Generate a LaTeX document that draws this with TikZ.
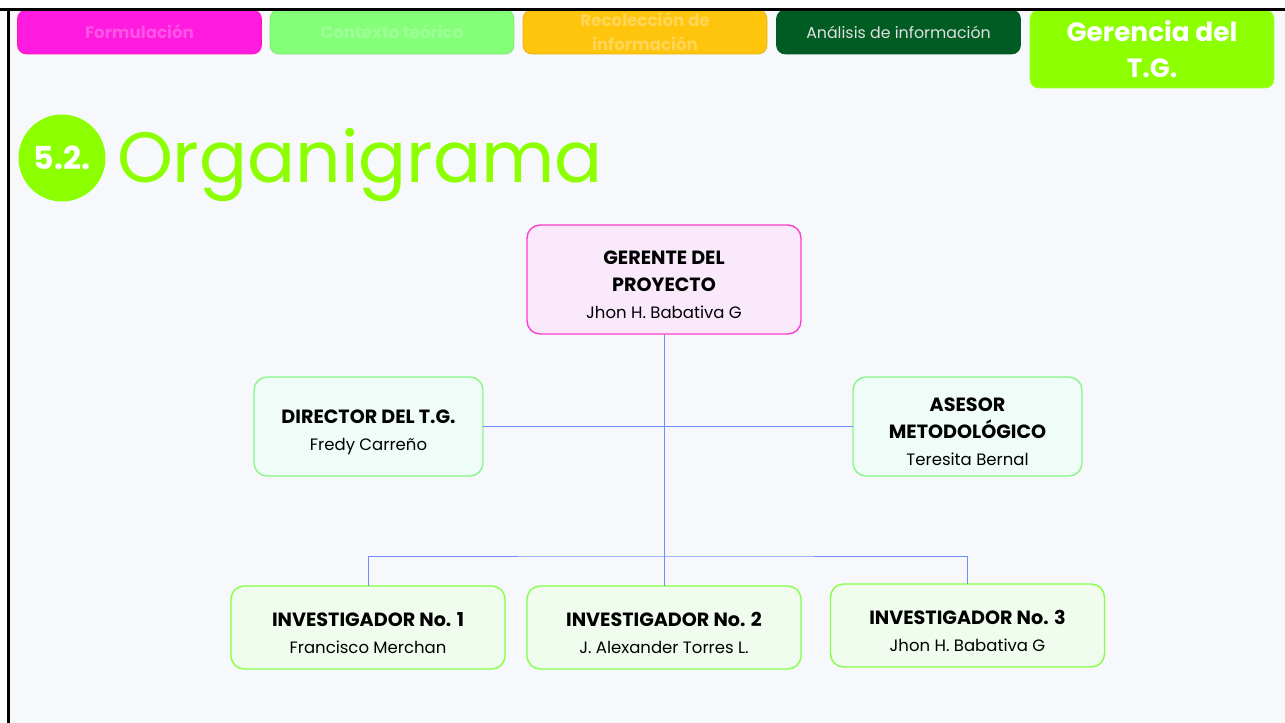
\documentclass[tikz,border=0pt]{standalone}
\usepackage{fontspec}
\setmainfont{Poppins}
\usetikzlibrary{positioning}
\definecolor{bgc}{HTML}{F7F8FC}
\definecolor{limec}{HTML}{8CFF00}
\definecolor{pinkfill}{HTML}{F9E9FB}
\definecolor{pinkline}{HTML}{FF3DCB}
\definecolor{mintfill}{HTML}{EFFCF7}
\definecolor{mintline}{HTML}{88F788}
\definecolor{leaffill}{HTML}{F0FDEE}
\definecolor{leafline}{HTML}{86FF44}
\definecolor{wirec}{HTML}{6F8EFF}
\definecolor{magc}{HTML}{FF1ADF}
\definecolor{greenc}{HTML}{85FF7A}
\definecolor{yellowc}{HTML}{FFC50D}
\definecolor{darkgc}{HTML}{005C22}
\newcommand\rolefont{\bfseries\fontsize{10.9}{15.5}\selectfont}
\newcommand\namefont{\mdseries\fontsize{9.4}{13}\selectfont}
\newcommand\topgap{\rule{0pt}{14pt}}
\begin{document}
\begin{tikzpicture}[x=0.02cm, y=-0.02cm,
  every node/.style={inner sep=0pt, outer sep=0pt},
  tab/.style={rounded corners=5pt, minimum width=4.88cm, minimum height=0.88cm,
    align=center, font=\bfseries\fontsize{9.5}{10}\selectfont},
  box/.style={draw, line width=0.8pt, rounded corners=0.26cm, align=center,
    font=\rolefont},
  wire/.style={draw=wirec, line width=0.5pt}]
  \useasboundingbox (0,0) rectangle (1285,723);
  \fill[white] (0,0) rectangle (1285,723);
  \fill[bgc] (9,10) rectangle (1285,723);
  \node[tab, fill=magc, draw=magc!80!red, text=magc!75!white] (f) at (139.5,32) {Formulación};
  \node[tab, fill=greenc, draw=greenc!90!black, text=greenc!80!white] (c) at (392,32) {Contexto teórico};
  \node[tab, fill=yellowc, draw=yellowc!90!black, text=yellowc!70!white, font=\bfseries\fontsize{9.5}{13.7}\selectfont] (r) at (645,32) {Recolección de\\información};
  \node[tab, fill=darkgc, draw=darkgc, text=white!88!black, font=\fontsize{9}{10}\selectfont] (a) at (898.5,32) {Análisis de información};
  \node[tab, fill=limec, draw=limec!80!white, text=white, minimum height=1.56cm,
    font=\bfseries\fontsize{15}{21}\selectfont] (g) at (1152,49) {Gerencia del\\T.G.};
  \fill[white] (0,0) rectangle (1285,9);
  \draw[line width=1.3pt] (0,9.5) -- (1285,9.5);
  \draw[line width=1.6pt] (8.5,9) -- (8.5,723);
  \node[circle, fill=limec, minimum size=1.74cm, text=white,
    font=\bfseries\fontsize{18}{18}\selectfont] (num) at (62,158) {5.2.};
  \node[anchor=base west, text=limec, font=\fontsize{40.5}{40.5}\selectfont] (ttl) at (117,182) {Organigrama};
  \node[box, draw=pinkline, fill=pinkfill, minimum width=5.48cm, minimum height=2.18cm] (ger) at (664,279.5)
    {\topgap GERENTE DEL\\PROYECTO\\\namefont Jhon H. Babativa G};
  \node[box, draw=mintline, fill=mintfill, minimum width=4.58cm, minimum height=1.98cm] (dir) at (368.5,426.5)
    {\topgap DIRECTOR DEL T.G.\\\namefont Fredy Carreño};
  \node[box, draw=mintline, fill=mintfill, minimum width=4.58cm, minimum height=1.98cm] (ase) at (967.5,426.5)
    {\topgap ASESOR\\METODOLÓGICO\\\namefont Teresita Bernal};
  \node[box, draw=leafline, fill=leaffill, minimum width=5.48cm, minimum height=1.66cm] (inv1) at (368,627.5)
    {\topgap INVESTIGADOR No. 1\\\namefont Francisco Merchan};
  \node[box, draw=leafline, fill=leaffill, minimum width=5.48cm, minimum height=1.66cm] (inv2) at (664,627.5)
    {\topgap INVESTIGADOR No. 2\\\namefont J. Alexander Torres L.};
  \node[box, draw=leafline, fill=leaffill, minimum width=5.48cm, minimum height=1.66cm] (inv3) at (967.5,625.5)
    {\topgap INVESTIGADOR No. 3\\\namefont Jhon H. Babativa G};
  \coordinate (bus) at (664,556);
  \draw[wire] (ger.south) -- (inv2.north);
  \draw[wire] (dir.east) -- (ase.west);
  \draw[wire] (inv1.north) |- (bus) -| (inv3.north);
\end{tikzpicture}
\end{document}
